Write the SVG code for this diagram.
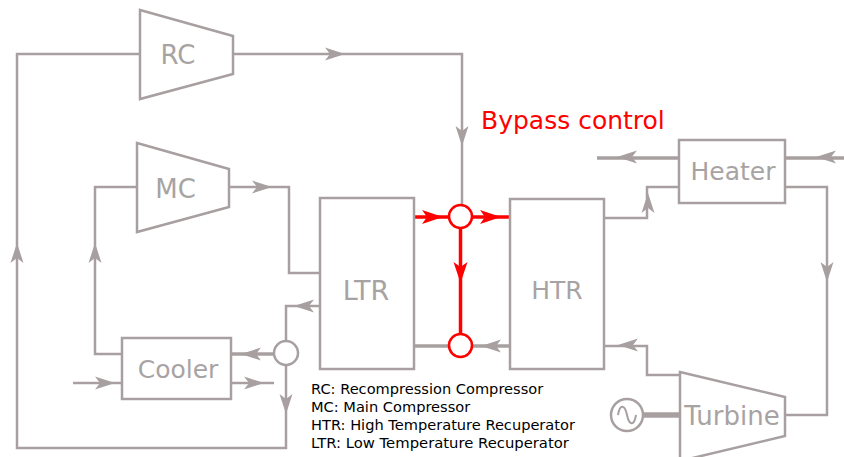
<svg xmlns="http://www.w3.org/2000/svg" width="844" height="457" viewBox="0 0 844 457">
<style>
.s{fill:none;stroke:#a8a0a0;stroke-width:2.5;stroke-linejoin:miter}
.k{stroke-width:3.5}
.b{fill:#fff;stroke:#a8a0a0;stroke-width:2.5}
.r{fill:none;stroke:#f00;stroke-width:3.5}
.c{fill:#fff;stroke:#f00;stroke-width:2.5}
.l{font-family:"DejaVu Sans",Verdana,sans-serif;font-size:26px;fill:#a8a3a3;text-anchor:middle}
.t{font-family:"DejaVu Sans",Verdana,sans-serif;font-size:14.6px;fill:#000}
</style>
<defs>
<path id="a" d="M10,0 L-10,-6.500 L-5,0 L-10,6.500 Z" fill="#a8a0a0"/>
<path id="ar" d="M11,0 L-10,-7 L-5,0 L-10,7 Z" fill="#f00"/>
</defs>
<rect width="844" height="457" fill="#fff"/>
<g id="connectors">
<path class="s" d="M233,54H462V204"/>
<path class="s" d="M140,54H17V448H286V365"/>
<path class="s" d="M229,187H289V273H320"/>
<path class="s" d="M137,187H95V354H122"/>
<path class="s" d="M286,341V306H320"/>
<path class="s k" d="M274,354H231"/>
<path class="s" d="M73,383H122M231,383H274"/>
<path class="s k" d="M414,346H448M472,346H510"/>
<path class="s" d="M604,218H647V187H679"/>
<path class="s k" d="M597,158H679M785,158H844"/>
<path class="s" d="M785,187H827V415H785"/>
<path class="s" d="M604,346H647V375H680"/>
<path class="s" d="M643,415H680" style="stroke-width:5.5"/>
<path class="r" d="M414,217H448M472,217H510M460.500,228V334"/>
<use href="#a" transform="translate(335,54)"/>
<use href="#a" transform="translate(462,136) rotate(90)"/>
<use href="#a" transform="translate(17,253) rotate(-90)"/>
<use href="#a" transform="translate(286,404) rotate(90)"/>
<use href="#a" transform="translate(262,187)"/>
<use href="#a" transform="translate(95,253) rotate(-90)"/>
<use href="#a" transform="translate(304,306) rotate(180)"/>
<use href="#a" transform="translate(251,354) rotate(180)"/>
<use href="#a" transform="translate(105,383)"/>
<use href="#a" transform="translate(254,383)"/>
<use href="#a" transform="translate(491,346) rotate(180)"/>
<use href="#a" transform="translate(648,203) rotate(-90)"/>
<use href="#a" transform="translate(627,157) rotate(180)"/>
<use href="#a" transform="translate(826,157) rotate(180)"/>
<use href="#a" transform="translate(827,272) rotate(90)"/>
<use href="#a" transform="translate(628,345) rotate(180)"/>
<use href="#ar" transform="translate(432,217)"/>
<use href="#ar" transform="translate(490,217)"/>
<use href="#ar" transform="translate(460.500,272) rotate(90)"/>
</g>
<g id="rc"><path class="b" d="M140,10L233,36V74L140,99Z"/><text class="l" x="178" y="64">RC</text></g>
<g id="mc"><path class="b" d="M137,143L229,169V207L137,232Z"/><text class="l" x="175.500" y="198">MC</text></g>
<g id="ltr"><rect class="b" x="320" y="198" width="94" height="171"/><text class="l" x="366" y="300" style="font-size:27px">LTR</text></g>
<g id="htr"><rect class="b" x="510" y="199" width="94" height="170"/><text class="l" x="557" y="299" style="font-size:25px">HTR</text></g>
<g id="heater"><rect class="b" x="679" y="140" width="106" height="63"/><text class="l" x="733" y="180" style="font-size:25px">Heater</text></g>
<g id="cooler"><rect class="b" x="122" y="338" width="109" height="61"/><text class="l" x="178" y="378" style="font-size:25px">Cooler</text></g>
<g id="turbine"><path class="b" d="M680,372L785,397V436L680,461Z"/><text class="l" x="732" y="425">Turbine</text></g>
<g id="generator"><circle class="b" cx="627" cy="415" r="16"/><path d="M618,415C620,403 625,405 627,415S634,427 636,415" fill="none" stroke="#a8a0a0" stroke-width="2"/></g>
<g id="split-top"><circle class="c" cx="460.500" cy="216.500" r="11.500"/></g>
<g id="split-bottom"><circle class="c" cx="460.500" cy="345.500" r="11.500"/></g>
<g id="split-cooler"><circle class="b" cx="286" cy="353" r="12"/></g>
<text x="481" y="128.500" font-family="DejaVu Sans,Verdana,sans-serif" font-size="25" fill="#f00">Bypass control</text>
<g id="legend">
<text class="t" x="311" y="394">RC: Recompression Compressor</text>
<text class="t" x="311" y="412">MC: Main Compressor</text>
<text class="t" x="311" y="430">HTR: High Temperature Recuperator</text>
<text class="t" x="311" y="448" style="font-size:14.8px">LTR: Low Temperature Recuperator</text>
</g>
</svg>
